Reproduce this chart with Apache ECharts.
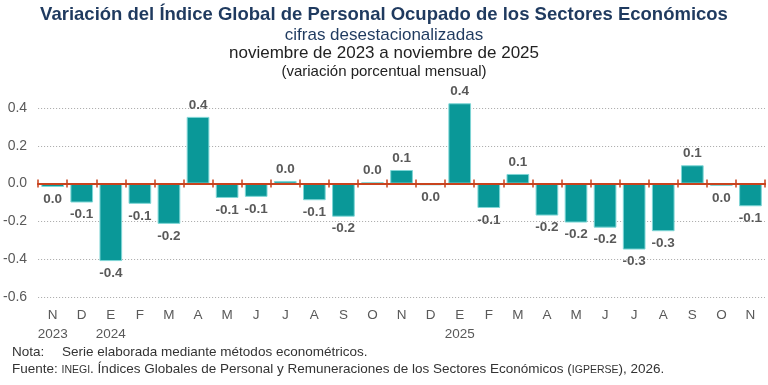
<!DOCTYPE html>
<html>
<head>
<meta charset="utf-8">
<script src="https://cdn.jsdelivr.net/npm/echarts@6/dist/echarts.min.js"></script>
<style>
html,body{margin:0;padding:0;background:#fff;}
#chart{width:768px;height:385px;}
</style>
</head>
<body>
<div id="chart"></div>
<script>
var months = ['N','D','E','F','M','A','M','J','J','A','S','O','N','D','E','F','M','A','M','J','J','A','S','O','N'];
var years = ['2023','','2024','','','','','','','','','','','','2025','','','','','','','','','',''];
var values = [-0.018,-0.100,-0.410,-0.107,-0.213,0.353,-0.076,-0.070,0.014,-0.088,-0.175,0.007,0.072,-0.009,0.425,-0.129,0.051,-0.169,-0.206,-0.233,-0.349,-0.252,0.097,-0.012,-0.120];
var yTicks = [-0.6,-0.4,-0.2,0.0,0.2,0.4];

var FONT = '"Liberation Sans", Arial, sans-serif';
var chart = echarts.init(document.getElementById('chart'), null, {renderer:'canvas'});

function fmt1(v){ var s = (Math.round(v*10)/10).toFixed(1); return s === '-0.0' ? '0.0' : s; }

var barData = values.map(function(v){
  return { value: v, label: { position: v < 0 ? 'bottom' : 'top' } };
});

function zeroAxis(pos){
  return {
    type:'category', data: months, boundaryGap:true, gridIndex:0, position:pos,
    axisLine:{ onZero:true, onZeroAxisIndex:0, lineStyle:{ color:'#c8431e', width:2 } },
    axisTick:{ show:true, length:4, lineStyle:{ color:'#c8431e', width:1.5 } },
    axisLabel:{ show:false }, splitLine:{show:false}, z:5
  };
}

var option = {
  animation:false,
  textStyle:{ fontFamily: FONT },
  title:[
    { text:'Variación del Índice Global de Personal Ocupado de los Sectores Económicos', left:'center', top:5, padding:0,
      textStyle:{ fontFamily:FONT, fontSize:18.5, fontWeight:'bold', color:'#1f3a5f' } },
    { text:'cifras desestacionalizadas', left:'center', top:27, padding:0,
      textStyle:{ fontFamily:FONT, fontSize:17, fontWeight:'normal', color:'#1f3a5f' } },
    { text:'noviembre de 2023 a noviembre de 2025', left:'center', top:45, padding:0,
      textStyle:{ fontFamily:FONT, fontSize:17, fontWeight:'normal', color:'#222' } },
    { text:'(variación porcentual mensual)', left:'center', top:64, padding:0,
      textStyle:{ fontFamily:FONT, fontSize:15, fontWeight:'normal', color:'#222' } }
  ],
  grid:{ left:38, right:3, top:108, bottom:88, containLabel:false },
  xAxis:[
    { type:'category', data: months, boundaryGap:true, position:'bottom',
      axisLine:{ show:false, onZero:false }, axisTick:{ show:false },
      axisLabel:{ color:'#595959', fontSize:13.5, fontFamily:FONT, margin:9, lineHeight:19,
        interval:0,
        formatter:function(v, i){ return years[i] ? v + '\n' + years[i] : v; } } },
    zeroAxis('bottom'),
    zeroAxis('top')
  ],
  yAxis:{
    type:'value', min:yTicks[0], max:yTicks[yTicks.length-1], interval:0.2,
    axisLine:{show:false}, axisTick:{show:false},
    axisLabel:{ color:'#595959', fontSize:14, fontFamily:FONT, margin:11,
      formatter:function(v){ return v.toFixed(1); } },
    splitLine:{ show:true, lineStyle:{ color:'#a6a6a6', type:[1,2], width:1 } }
  },
  series:[{
    type:'bar', xAxisIndex:0, data: barData, barCategoryGap:'22%', clip:false,
    itemStyle:{ color:'#0a9898', borderColor:'#7fd6d6', borderWidth:1 },
    label:{ show:true, distance:5, fontSize:13.5, fontWeight:'bold', color:'#595959', fontFamily:FONT,
      formatter:function(p){ return fmt1(p.value); } }
  }],
  graphic:[
    { type:'text', left:12, top:345, style:{ text:'Nota:', font:'13.5px '+FONT, fill:'#333' } },
    { type:'text', left:62, top:345, style:{ text:'Serie elaborada mediante métodos econométricos.', font:'13.5px '+FONT, fill:'#333' } },
    { type:'text', left:12, top:362, style:{ rich:{
        n:{ fontSize:13.5, fontFamily:FONT, fill:'#333', color:'#333' },
        s:{ fontSize:10.5, fontFamily:FONT, fill:'#333', color:'#333', verticalAlign:'bottom' } },
        text:'{n|Fuente: }{s|INEGI}{n|. Índices Globales de Personal y Remuneraciones de los Sectores Económicos (}{s|IGPERSE}{n|), 2026.}' } }
  ]
};
chart.setOption(option);
</script>
</body>
</html>
